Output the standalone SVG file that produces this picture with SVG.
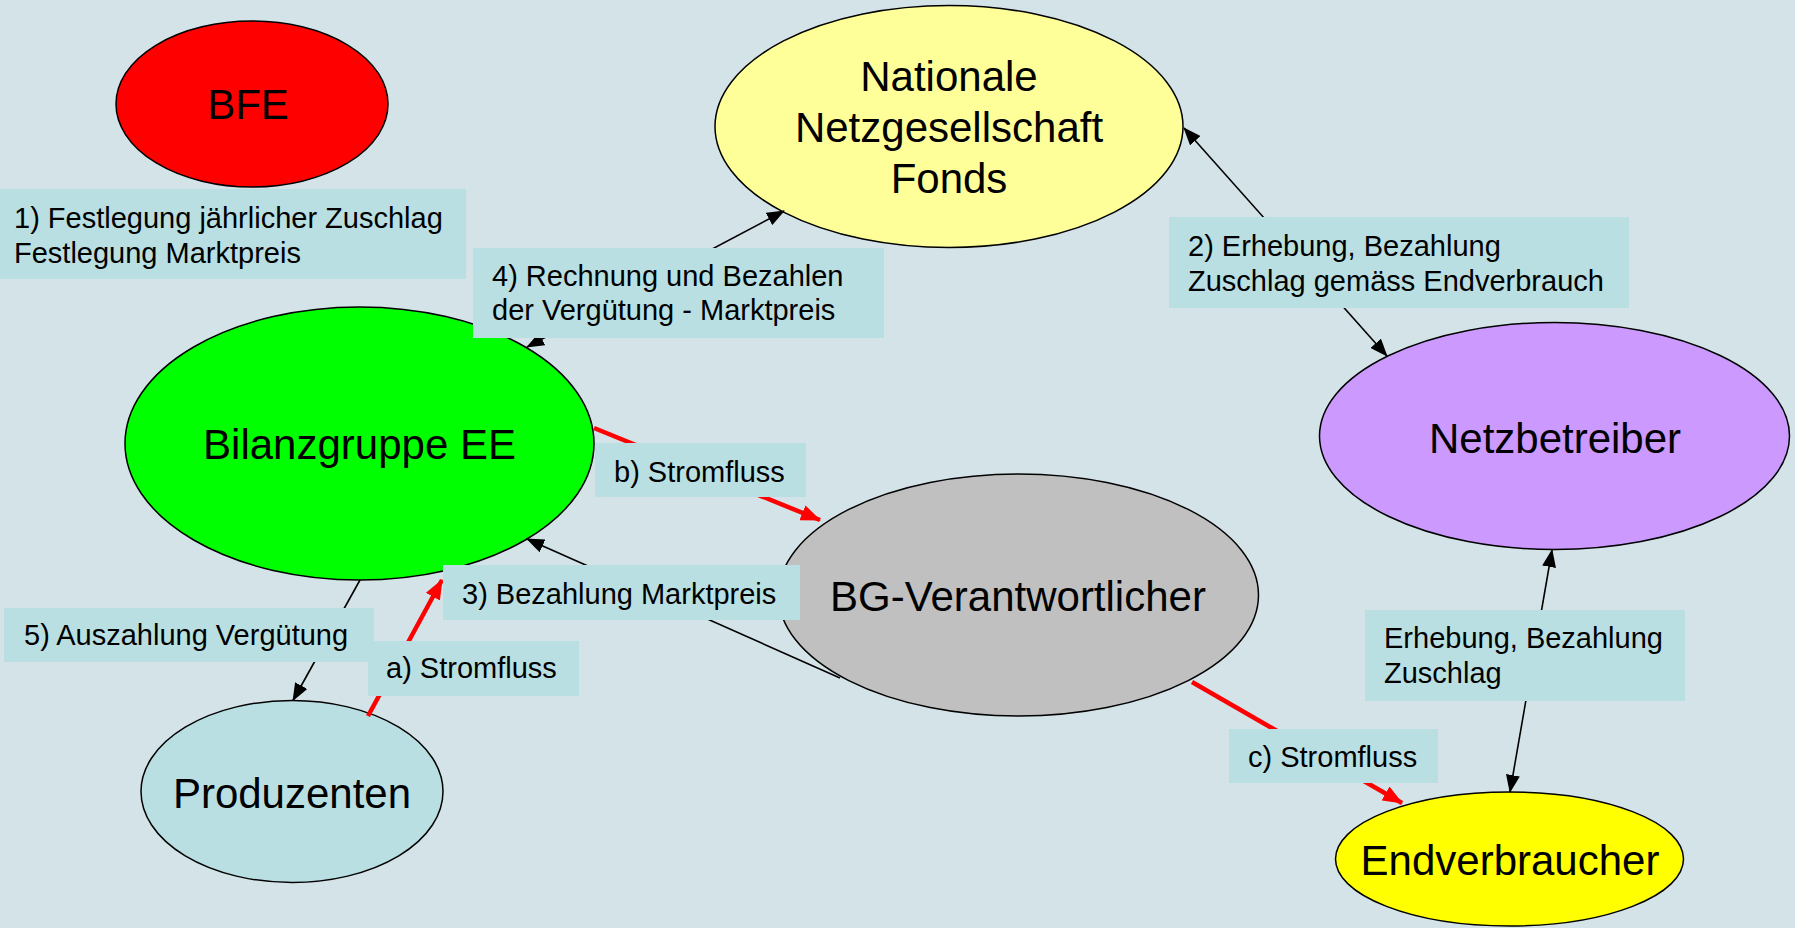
<svg xmlns="http://www.w3.org/2000/svg" width="1795" height="928" viewBox="0 0 1795 928">
<style>
.node{stroke:#000;stroke-width:1.5}
.nt{font-family:"Liberation Sans",Arial,sans-serif;font-size:42px;fill:#000;text-anchor:middle}
.lb{fill:#B9DFE3}
.lt{font-family:"Liberation Sans",Arial,sans-serif;font-size:29px;fill:#000}
.c{fill:none;stroke:#000;stroke-width:1.6}
.r{fill:none;stroke:#FF0000;stroke-width:4.5}
</style>
<defs>
<marker id="ab" markerUnits="userSpaceOnUse" markerWidth="18" markerHeight="14" refX="17" refY="7" orient="auto-start-reverse" viewBox="0 0 18 14">
<path d="M0,0 L18,7 L0,14 Z" fill="#000"/>
</marker>
<marker id="ar" markerUnits="userSpaceOnUse" markerWidth="20" markerHeight="16" refX="19" refY="8" orient="auto" viewBox="0 0 20 16">
<path d="M0,0 L20,8 L0,16 Z" fill="#FF0000"/>
</marker>
</defs>
<rect x="0" y="0" width="1795" height="928" fill="#D4E3E8"/>

<g id="node-bfe">
<ellipse class="node" cx="252" cy="104" rx="136" ry="83" fill="#FF0000"/>
<text class="nt" x="248" y="119">BFE</text>
</g>
<g id="node-nationale">
<ellipse class="node" cx="949" cy="126.5" rx="234" ry="121" fill="#FFFF99"/>
<text class="nt" x="949" y="91">Nationale</text>
<text class="nt" x="949" y="142">Netzgesellschaft</text>
<text class="nt" x="949" y="193">Fonds</text>
</g>
<g id="node-bilanzgruppe">
<ellipse class="node" cx="359.5" cy="443.5" rx="234.5" ry="136.5" fill="#00FF00"/>
<text class="nt" x="359.5" y="459">Bilanzgruppe EE</text>
</g>
<g id="node-produzenten">
<ellipse class="node" cx="292" cy="791.5" rx="151" ry="91" fill="#B9DFE3"/>
<text class="nt" x="292" y="808">Produzenten</text>
</g>
<g id="node-bg">
<ellipse class="node" cx="1018.5" cy="595" rx="240" ry="121" fill="#C0C0C0"/>
<text class="nt" x="1018" y="611">BG-Verantwortlicher</text>
</g>
<g id="node-netzbetreiber">
<ellipse class="node" cx="1554.5" cy="436" rx="235" ry="113.5" fill="#CC99FF"/>
<text class="nt" x="1555" y="453">Netzbetreiber</text>
</g>
<g id="node-endverbraucher">
<ellipse class="node" cx="1509.5" cy="859" rx="174" ry="67" fill="#FFFF00"/>
<text class="nt" x="1510" y="875">Endverbraucher</text>
</g>

<g id="connectors">
<line class="c" x1="527" y1="347" x2="784" y2="211" marker-start="url(#ab)" marker-end="url(#ab)"/>
<line class="c" x1="1184" y1="128" x2="1387" y2="356" marker-start="url(#ab)" marker-end="url(#ab)"/>
<line class="c" x1="1552" y1="550" x2="1510" y2="792" marker-start="url(#ab)" marker-end="url(#ab)"/>
<line class="c" x1="840" y1="678" x2="527" y2="539" marker-end="url(#ab)"/>
<line class="c" x1="360" y1="580" x2="293" y2="700.5" marker-end="url(#ab)"/>
<line class="r" x1="368" y1="716" x2="442" y2="580" marker-end="url(#ar)"/>
<line class="r" x1="594" y1="428" x2="820" y2="520" marker-end="url(#ar)"/>
<line class="r" x1="1192" y1="682" x2="1402" y2="803" marker-end="url(#ar)"/>
</g>

<g id="labels">
<rect class="lb" x="0" y="189" width="466" height="90"/>
<text class="lt" x="14" y="228">1) Festlegung jährlicher Zuschlag</text>
<text class="lt" x="14" y="263">Festlegung Marktpreis</text>
<rect class="lb" x="473" y="248" width="411" height="90"/>
<text class="lt" x="492" y="286">4) Rechnung und Bezahlen</text>
<text class="lt" x="492" y="320">der Vergütung - Marktpreis</text>
<rect class="lb" x="1169" y="217" width="460" height="91"/>
<text class="lt" x="1188" y="256">2) Erhebung, Bezahlung</text>
<text class="lt" x="1188" y="291">Zuschlag gemäss Endverbrauch</text>
<rect class="lb" x="595" y="443" width="211" height="54"/>
<text class="lt" x="614" y="482">b) Stromfluss</text>
<rect class="lb" x="443" y="565" width="357" height="55"/>
<text class="lt" x="462" y="604">3) Bezahlung Marktpreis</text>
<rect class="lb" x="4" y="608" width="370" height="54"/>
<text class="lt" x="24" y="645">5) Auszahlung Vergütung</text>
<rect class="lb" x="368" y="641" width="211" height="55"/>
<text class="lt" x="386" y="678">a) Stromfluss</text>
<rect class="lb" x="1229" y="729" width="209" height="54"/>
<text class="lt" x="1248" y="767">c) Stromfluss</text>
<rect class="lb" x="1365" y="610" width="320" height="91"/>
<text class="lt" x="1384" y="648">Erhebung, Bezahlung</text>
<text class="lt" x="1384" y="683">Zuschlag</text>
</g>
</svg>
